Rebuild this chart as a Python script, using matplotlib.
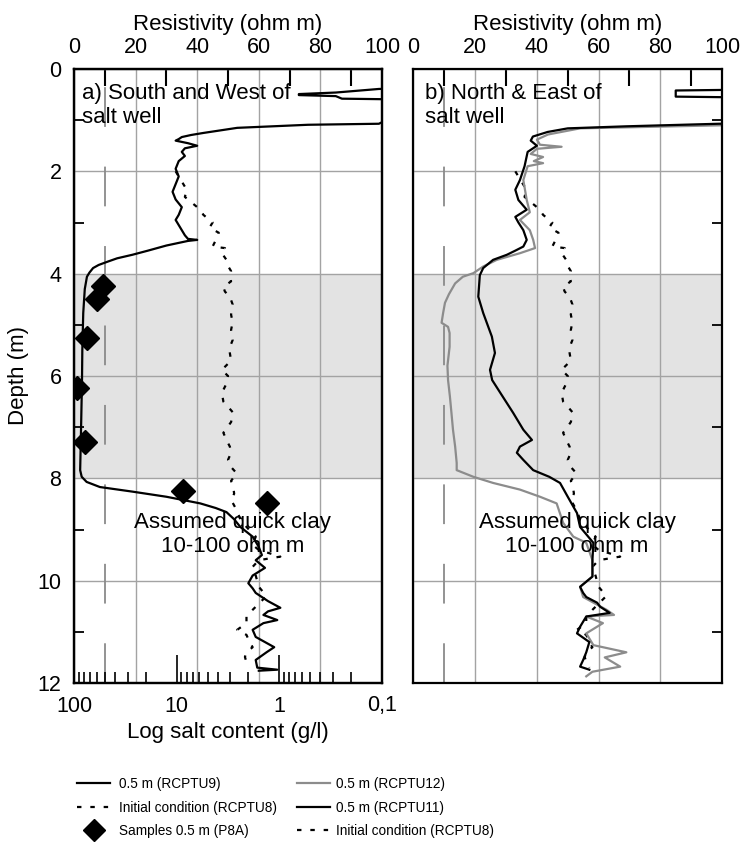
import matplotlib
matplotlib.use("Agg")
import matplotlib.pyplot as plt
from matplotlib.lines import Line2D
from matplotlib.ticker import FixedLocator, LogLocator, NullFormatter

plt.rcParams['font.family'] = ['Liberation Sans', 'DejaVu Sans']

# ---------------- data ----------------
# Panel a) RCPTU9 resistivity (ohm m) vs depth (m)
rcptu9_depth = [0.36, 0.39, 0.46, 0.49, 0.51, 0.53, 0.58, 0.59, 0.60, 1.02, 1.04, 1.07, 1.09, 1.15, 1.25, 1.29,
                1.33, 1.37, 1.40, 1.45, 1.50, 1.55, 1.62, 1.70, 1.80, 1.95, 2.10, 2.25, 2.40, 2.55, 2.70, 2.85,
                2.95, 3.05, 3.15, 3.25, 3.32, 3.34, 3.36, 3.45, 3.55, 3.63, 3.70, 3.77, 3.83, 3.89, 3.98, 4.06,
                4.30, 4.77, 5.50, 6.08, 7.00, 7.84, 7.97, 8.07, 8.17, 8.26, 8.36, 8.49, 8.58, 8.66, 8.80, 8.95,
                9.14, 9.34, 9.50, 9.60, 9.75, 9.90, 10.05, 10.15, 10.24, 10.40, 10.53, 10.60, 10.67, 10.77, 10.83,
                10.96, 11.10, 11.20, 11.30, 11.40, 11.55, 11.70, 11.74, 11.76]
rcptu9_res = [140, 99, 85, 73, 73, 85, 87, 100, 140, 140, 100, 99, 76, 53, 42, 38,
              35, 34, 33, 37, 40, 36, 35, 36, 34, 33, 34, 33, 32, 33, 35, 34,
              33, 34, 35, 36, 37, 40, 37, 30, 24, 19, 14, 10.7, 8, 6.2, 5, 4.2,
              3.5, 3.0, 2.7, 2.6, 2.3, 2.0, 2.5, 4.1, 8.4, 19, 30, 41, 46, 49.5, 52, 54,
              58, 60, 61, 59, 62, 58, 56.6, 58, 59, 63, 67, 63, 61.5, 66, 61.5,
              58, 59, 62, 65, 62.5, 59, 59.5, 66, 60]

# Initial condition RCPTU8 (both panels)
rcptu8_depth = [2.0, 2.2, 2.36, 2.5, 2.6, 2.75, 2.85, 3.0, 3.1, 3.2, 3.35, 3.47, 3.5, 3.6, 3.73, 3.85, 3.95,
                4.06, 4.15, 4.26, 4.35, 4.45, 4.6, 4.8, 4.95, 5.1, 5.3, 5.45, 5.55, 5.7, 5.88, 6.0, 6.15,
                6.33, 6.5, 6.6, 6.72, 6.9, 7.11, 7.25, 7.38, 7.5, 7.64, 7.78, 7.9, 8.05, 8.17, 8.3, 8.42,
                8.62, 8.8, 8.95, 9.14, 9.3, 9.4, 9.53, 9.6, 9.73, 9.9, 10.12, 10.3, 10.45, 10.57, 10.7,
                10.83, 10.96, 11.06, 11.2, 11.3, 11.4, 11.49, 11.6, 11.7]
rcptu8_res = [33, 35, 36.6, 36, 38, 41, 42, 45, 44, 47, 46, 45, 49, 48, 49.5, 50, 51,
              50.6, 51, 48.5, 49, 50.6, 51.5, 51, 51.5, 51, 51.5, 50.5, 50.6, 51, 48, 50, 49.5,
              48, 48.5, 50, 51.7, 51, 48.5, 49.5, 50.6, 51, 50, 51, 52.8, 51, 51.7, 52, 51,
              52.8, 54, 56, 59, 58, 60, 67, 60, 58, 59, 60, 62.5, 60, 58, 56,
              56, 53, 56, 57, 58, 56, 55.5, 56, 57]

# Samples P8A: salt content (g/l) vs depth (m)
p8a_depth = [4.24, 4.49, 5.26, 6.23, 7.29, 8.24, 8.48]
p8a_salt = [52, 60, 75, 93, 78, 8.7, 1.32]

# Panel b) RCPTU11
rcptu11_depth = [0.38, 0.41, 0.42, 0.54, 0.55, 0.56, 1.05, 1.07, 1.12, 1.16, 1.23, 1.32, 1.40, 1.50, 1.62,
                 1.90, 2.17, 2.36, 2.56, 2.75, 2.89, 3.00, 3.15, 3.34, 3.47, 3.55, 3.63, 3.73, 3.89, 4.03,
                 4.45, 4.77, 5.00, 5.23, 5.55, 5.88, 6.08, 6.41, 6.72, 7.05, 7.25, 7.38, 7.50, 7.64, 7.84,
                 7.97, 8.09, 8.36, 8.68, 8.95, 9.26, 9.60, 9.92, 10.12, 10.24, 10.32, 10.43, 10.51, 10.63,
                 10.70, 10.90, 11.03, 11.20, 11.40, 11.55, 11.68, 11.74]
rcptu11_res = [140, 99, 85, 85, 99, 140, 140, 99, 69, 50, 43.5, 38.7, 38, 40, 37,
               36, 34.5, 33, 34, 36.7, 33, 34, 35.6, 36.7, 35.6, 33, 30.3, 25.8, 22.6, 21.5,
               21, 22.6, 24, 25.4, 26.4, 24.8, 25.5, 29, 32.3, 35.6, 38.4, 34.5, 33.5, 35.6, 38.8,
               44, 47.5, 50, 53, 54, 58.3, 58, 58, 54, 55, 56, 59.5, 60.5, 63.6,
               56, 54, 53, 57, 56, 55, 54, 57]

# Panel b) RCPTU12
rcptu12_depth = [1.08, 1.10, 1.16, 1.28, 1.38, 1.48, 1.52, 1.56, 1.66, 1.72, 1.80, 1.84, 1.90, 2.17, 2.56,
                 2.80, 2.95, 3.15, 3.34, 3.50, 3.60, 3.73, 3.86, 3.99, 4.06, 4.19, 4.40, 4.57, 4.77, 4.96,
                 5.04, 5.16, 5.43, 5.80, 6.08, 6.40, 6.72, 7.05, 7.38, 7.70, 7.84, 7.97, 8.09, 8.22, 8.36,
                 8.49, 8.87, 9.14, 9.26, 9.60, 9.92, 10.12, 10.32, 10.57, 10.67, 10.70, 10.83, 11.03,
                 11.26, 11.40, 11.50, 11.68, 11.78, 11.87]
rcptu12_res = [140, 100, 54, 43.6, 40, 41, 48, 40, 38, 42, 39, 42, 37, 35.6, 36.7,
               37.7, 34.5, 37.7, 38.8, 39.4, 34.5, 27, 22.6, 19.4, 16, 13.5, 11.5, 10.2, 9.6, 9.1,
               11.2, 11.7, 11.7, 11, 11.2, 11.8, 12.3, 12.8, 13.5, 14, 14, 19.4, 25.8, 34.5, 41,
               46.4, 48.5, 51.8, 56, 58, 58, 54, 55, 62.6, 65, 56, 61.4, 56,
               58.3, 69, 62, 67, 58, 56]

res_ticks = [0, 20, 40, 60, 80, 100]
res_minor = [10, 30, 50, 70, 90]
depth_ticks = [0, 2, 4, 6, 8, 10, 12]
depth_minor = [1, 3, 5, 7, 9, 11]
salt_ticks = [100, 10, 1, 0.1]
salt_labels = ['100', '10', '1', '0,1']
quick_clay_top, quick_clay_bottom = 4, 8
quick_clay_limit = 10

# ---------------- figure ----------------
W, H = 743, 843
fig = plt.figure(figsize=(W / 100, H / 100), dpi=100)

def box(x0, y0, x1, y1):
    return [x0 / W, 1 - y1 / H, (x1 - x0) / W, (y1 - y0) / H]

axA = fig.add_axes(box(74, 69, 382, 683))
axB = fig.add_axes(box(413.5, 69, 722, 683))

# log salt axis on panel a (create first, then restore top ticks on axA)
axS = axA.twiny()

FS = 16
TFS = 15.5
grid_c = '#a3a3a3'
dotted = (0, (2, 4))

for ax in (axA, axB):
    ax.set_xlim(0, 100)
    ax.set_ylim(12, 0)
    ax.axhspan(quick_clay_top, quick_clay_bottom, color='#e3e3e3', lw=0, zorder=0.5)
    ax.axvline(quick_clay_limit, color='#8a8a8a', lw=1.3, dashes=(22, 22), zorder=1.6)
    ax.xaxis.tick_top()
    ax.xaxis.set_label_position('top')
    ax.xaxis.set_major_locator(FixedLocator(res_ticks))
    ax.xaxis.set_minor_locator(FixedLocator(res_minor))
    ax.yaxis.set_major_locator(FixedLocator(depth_ticks))
    ax.yaxis.set_minor_locator(FixedLocator(depth_minor))
    ax.tick_params(axis='x', which='major', length=0, labelsize=TFS, pad=8,
                   top=True, bottom=False, labeltop=True, labelbottom=False)
    ax.tick_params(axis='x', which='minor', length=12, width=1.5, direction='in',
                   top=True, bottom=False)
    ax.grid(True, which='major', color=grid_c, lw=1.0)
    ax.set_xlabel('Resistivity (ohm m)', fontsize=FS, labelpad=5)
    for s in ax.spines.values():
        s.set_linewidth(1.6)
    ax.plot(rcptu8_res, rcptu8_depth, color='black', lw=1.6, linestyle=dotted, zorder=2)

# Panel a
axA.tick_params(axis='y', which='major', length=0, labelsize=TFS, pad=9)
axA.tick_params(axis='y', which='minor', length=7, width=1.3, direction='in', left=True, right=False)
axA.set_ylabel('Depth (m)', fontsize=FS, labelpad=6)
axA.plot(rcptu9_res, rcptu9_depth, color='black', lw=1.6, zorder=3)
axA.text(2.6, 0.27, 'a) South and West of\nsalt well', fontsize=FS, ha='left', va='top', zorder=5)
axA.text(51.6, 9.1, 'Assumed quick clay\n10-100 ohm m', fontsize=FS, ha='center', va='center',
         zorder=5, linespacing=1.15)

axS.set_xscale('log')
axS.set_xlim(100, 0.1)
axS.xaxis.set_ticks_position('bottom')
axS.xaxis.set_label_position('bottom')
axS.xaxis.set_major_locator(FixedLocator(salt_ticks))
axS.set_xticklabels(salt_labels)
axS.xaxis.set_minor_locator(LogLocator(base=10, subs=range(2, 10)))
axS.xaxis.set_minor_formatter(NullFormatter())
axS.tick_params(axis='x', which='major', length=20, width=1.2, direction='in', labelsize=TFS, pad=9,
                top=False, bottom=True, labeltop=False, labelbottom=True)
axS.tick_params(axis='x', which='minor', length=8, width=1.2, direction='in', top=False, bottom=True)
axS.set_xlabel('Log salt content (g/l)', fontsize=FS, labelpad=4)
axS.plot(p8a_salt, p8a_depth, linestyle='none', marker='D', color='black', markersize=12, zorder=6)
for s in axS.spines.values():
    s.set_linewidth(1.6)

# Panel b
axB.tick_params(axis='y', which='major', length=0, labelleft=False)
axB.tick_params(axis='y', which='minor', length=7, width=1.3, direction='in', left=False, right=True)
axB.plot(rcptu12_res, rcptu12_depth, color='#8c8c8c', lw=1.6, zorder=2.5)
axB.plot(rcptu11_res, rcptu11_depth, color='black', lw=1.6, zorder=3)
axB.text(3.7, 0.27, 'b) North & East of\nsalt well', fontsize=FS, ha='left', va='top', zorder=5)
axB.text(53, 9.1, 'Assumed quick clay\n10-100 ohm m', fontsize=FS, ha='center', va='center',
         zorder=5, linespacing=1.15)

# ---------------- legends ----------------
legfont = {'family': ['Liberation Sans'], 'size': 9.8}
hA = [Line2D([], [], color='black', lw=1.6),
      Line2D([], [], color='black', lw=1.6, linestyle=dotted),
      Line2D([], [], color='black', linestyle='none', marker='D', markersize=11)]
lA = ['0.5 m (RCPTU9)', 'Initial condition (RCPTU8)', 'Samples 0.5 m (P8A)']
hB = [Line2D([], [], color='#8c8c8c', lw=1.6),
      Line2D([], [], color='black', lw=1.6),
      Line2D([], [], color='black', lw=1.6, linestyle=dotted)]
lB = ['0.5 m (RCPTU12)', '0.5 m (RCPTU11)', 'Initial condition (RCPTU8)']
fig.legend(hA, lA, loc='upper left', bbox_to_anchor=(77 / W, 1 - 777 / H), frameon=False,
           prop=legfont, handlelength=2.45, handletextpad=0.6, labelspacing=0.7,
           borderpad=0, borderaxespad=0)
fig.legend(hB, lB, loc='upper left', bbox_to_anchor=(297 / W, 1 - 777 / H), frameon=False,
           prop=legfont, handlelength=2.45, handletextpad=0.45, labelspacing=0.7,
           borderpad=0, borderaxespad=0)

fig.savefig('out.png', dpi=100)
